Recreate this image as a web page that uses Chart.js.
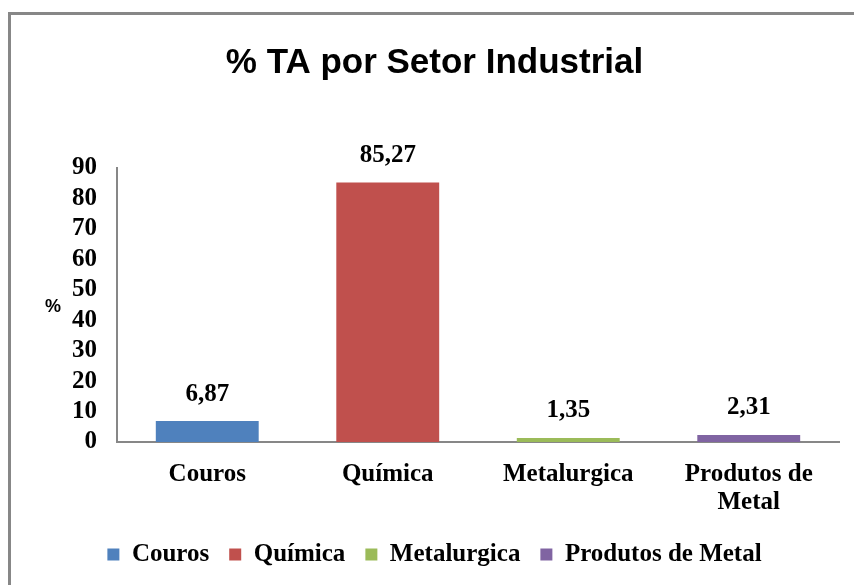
<!DOCTYPE html>
<html lang="pt">
<head>
  <meta charset="UTF-8">
  <title>% TA por Setor Industrial</title>
  <script src="https://cdn.jsdelivr.net/npm/chart.js"></script>
  <style>
    html, body { margin: 0; padding: 0; background: #fff; overflow: hidden; }
    .frame { position: absolute; left: 8px; top: 12px; width: 900px; height: 700px; border: 3px solid #878787; }
    .wrap { position: absolute; left: 0; top: 0; width: 854px; height: 585px; }
  </style>
</head>
<body>
  <div class="frame"></div>
  <div class="wrap"><canvas id="chart"></canvas></div>

  <script>
    const categories = ["Couros", ["Química"], "Metalurgica", ["Produtos de", "Metal"]];
    const legendNames = ["Couros", "Química", "Metalurgica", "Produtos de Metal"];
    const values = [6.87, 85.27, 1.35, 2.31];
    const colors = ["#4F81BD", "#C0504D", "#9BBB59", "#8064A2"];
    const yTicks = [0, 10, 20, 30, 40, 50, 60, 70, 80, 90];

    const serif = "'Liberation Serif', 'Times New Roman', serif";

    // rótulos de valor acima das barras + "%" do eixo
    const extras = {
      id: "extras",
      afterDatasetsDraw(chart) {
        const ctx = chart.ctx;
        const meta = chart.getDatasetMeta(0);
        const area = chart.chartArea;
        ctx.save();
        ctx.fillStyle = "#000";
        ctx.font = "bold 25px " + serif;
        ctx.textAlign = "center";
        ctx.textBaseline = "middle";
        meta.data.forEach((bar, i) => {
          ctx.fillText(values[i].toFixed(2).replace(".", ","), bar.x, bar.y - 27);
        });
        ctx.font = "bold 18px 'Liberation Sans', Arial, sans-serif";
        ctx.fillText("%", area.left - 64, (area.top + area.bottom) / 2 + 2);
        ctx.restore();
      }
    };

    new Chart(document.getElementById("chart"), {
      type: "bar",
      data: {
        labels: categories,
        datasets: [{
          data: values,
          backgroundColor: colors,
          barPercentage: 0.57,
          categoryPercentage: 1
        }]
      },
      options: {
        responsive: true,
        maintainAspectRatio: false,
        animation: false,
        layout: { padding: { left: 30, right: 15, top: 0, bottom: 8 } },
        plugins: {
          tooltip: { enabled: false },
          title: {
            display: true,
            text: "% TA por Setor Industrial",
            color: "#000",
            font: { family: "'Liberation Sans', Arial, sans-serif", size: 35, weight: "bold" },
            padding: { top: 42, bottom: 84 }
          },
          legend: {
            position: "bottom",
            labels: {
              color: "#000",
              font: { family: serif, size: 25, weight: "bold" },
              boxWidth: 12,
              boxHeight: 12,
              padding: 20,
              generateLabels: () => legendNames.map((n, i) => ({
                text: n,
                fillStyle: colors[i],
                strokeStyle: colors[i],
                lineWidth: 0,
                index: i
              }))
            }
          }
        },
        scales: {
          x: {
            afterFit: s => { s.height = s.height - 14; },
            grid: { display: false, drawTicks: false },
            border: { display: true, color: "#878787", width: 2 },
            ticks: {
              color: "#000",
              font: { family: serif, size: 25, weight: "bold", lineHeight: 1.12 },
              padding: 19,
              maxRotation: 0
            }
          },
          y: {
            min: 0,
            max: 90,
            afterFit: s => { s.width = 87; },
            afterBuildTicks: s => { s.ticks = yTicks.map(v => ({ value: v })); },
            grid: { display: false, drawTicks: false },
            border: { display: true, color: "#878787", width: 2 },
            ticks: {
              color: "#000",
              font: { family: serif, size: 25, weight: "bold" },
              padding: 20,
              autoSkip: false
            }
          }
        }
      },
      plugins: [extras]
    });
  </script>
</body>
</html>
